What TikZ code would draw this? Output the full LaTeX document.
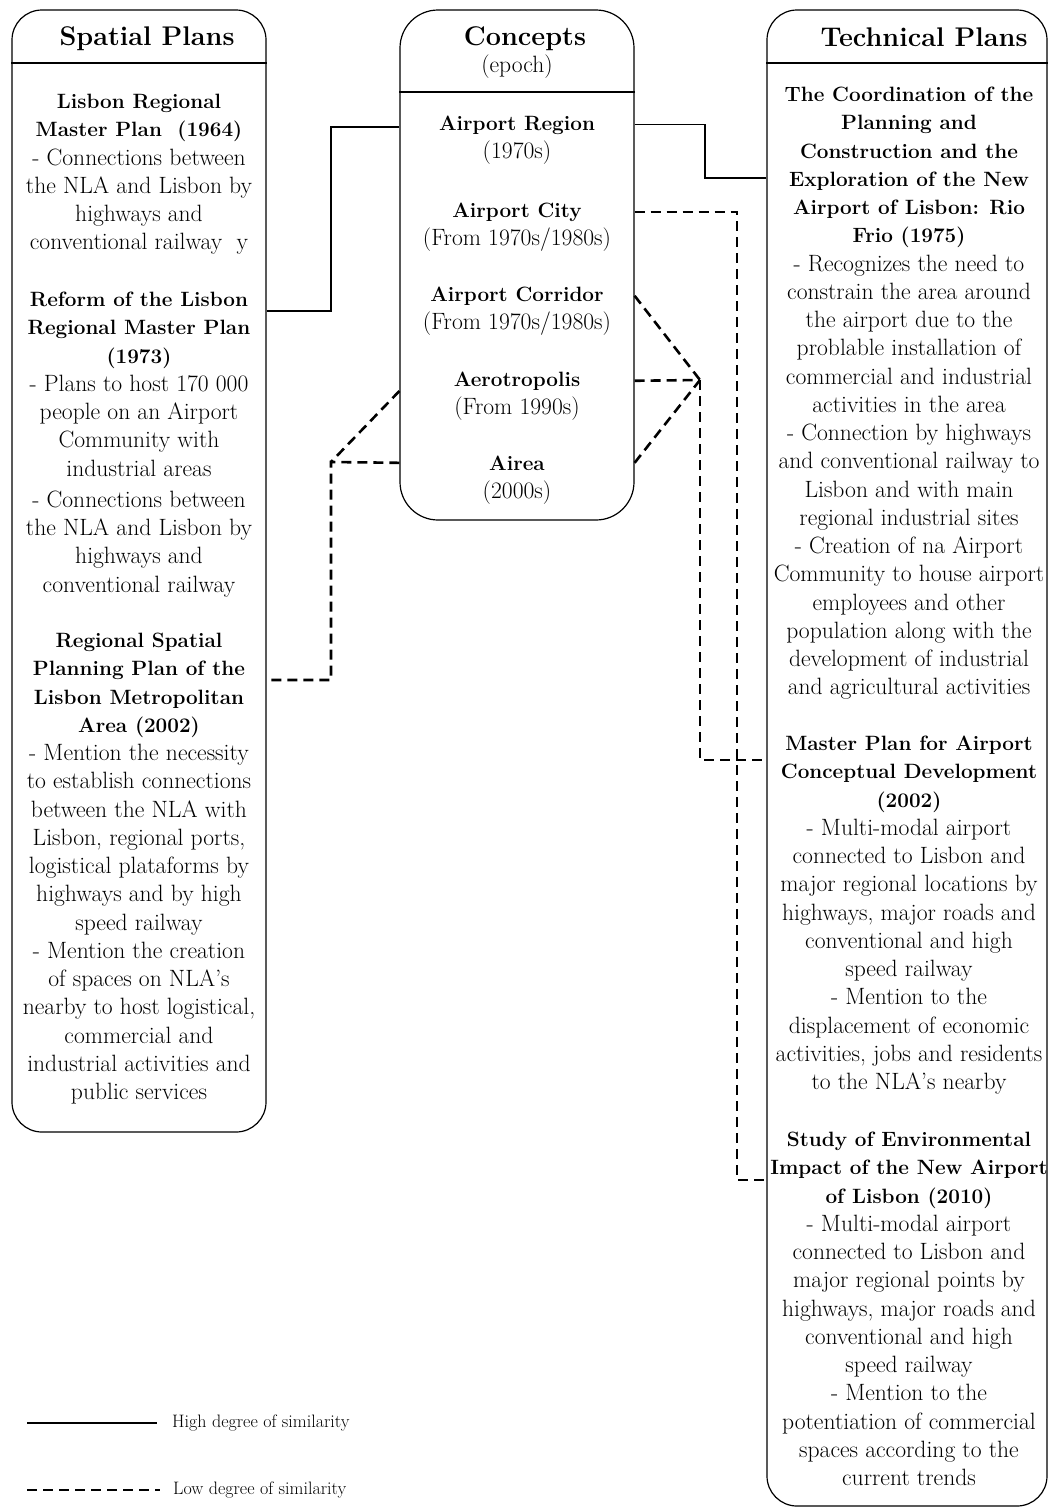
\documentclass[tikz,border=0pt]{standalone}
\usepackage{fontspec}
\newcommand{\ptitle}[1]{{\fontsize{20.7}{28.25}\selectfont\bfseries #1}}
\tikzset{
	panel/.style={draw, line width=1.2pt, rounded corners=30pt, inner sep=0pt},
	head/.style={inner sep=0pt, anchor=base, font=\fontsize{27}{32}\selectfont\bfseries},
	block/.style={align=center, anchor=north, inner sep=0pt, font=\fontsize{23.6}{28.25}\selectfont},
	ctitle/.style={inner sep=0pt, anchor=base, font=\fontsize{20.7}{28.25}\selectfont\bfseries},
	cdate/.style={inner sep=0pt, anchor=base, font=\fontsize{23.6}{28.25}\selectfont},
	high/.style={line width=1.2pt},
	low/.style={line width=2.6pt, dash pattern=on 10pt off 6pt},
	legend/.style={anchor=west, inner sep=0pt, font=\fontsize{18}{21}\selectfont}
}
\begin{document}
\begin{tikzpicture}[x=1pt,y=1pt,yscale=-1]
	\useasboundingbox (0,0) rectangle (1048,1508);
	\node[panel, minimum width=254pt, minimum height=1122pt] (spatial) at (139,571) {};
	\node[panel, rounded corners=38pt, minimum width=234pt, minimum height=510pt] (concepts) at (517,265) {};
	\node[panel, minimum width=280pt, minimum height=1496pt] (technical) at (907,758) {};
	\draw[high] (spatial.west |- 0,63) -- (spatial.east |- 0,63);
	\draw[high] (concepts.west |- 0,92) -- (concepts.east |- 0,92);
	\draw[high] (technical.west |- 0,63) -- (technical.east |- 0,63);
	\node[head] (spatial-head) at (147,45) {Spatial Plans};
	\node[head] (concepts-head) at (525,45) {Concepts};
	\node[cdate] (concepts-sub) at (517,72) {(epoch)};
	\node[head] (technical-head) at (924,46) {Technical Plans};
	\node[block] (lisbon64) at (139,94) {\ptitle{Lisbon Regional}\\\ptitle{Master Plan\ \ (1964)}\\- Connections between\\the NLA and Lisbon by\\highways and\\conventional railway\ \ y};
	\node[block] (reform73) at (139,292) {\ptitle{Reform of the Lisbon}\\\ptitle{Regional Master Plan}\\\ptitle{(1973)}\\- Plans to host 170 000\\people on an Airport\\Community with\\industrial areas\\[3pt]- Connections between\\the NLA and Lisbon by\\highways and\\conventional railway};
	\node[block] (prot02) at (139,633) {\ptitle{Regional Spatial}\\\ptitle{Planning Plan of the}\\\ptitle{Lisbon Metropolitan}\\\ptitle{Area (2002)}\\- Mention the necessity\\to establish connections\\between the NLA with\\Lisbon, regional ports,\\logistical plataforms by\\highways and by high\\speed railway\\- Mention the creation\\of spaces on NLA's\\nearby to host logistical,\\commercial and\\industrial activities and\\public services};
	\node[ctitle] (region) at (517,130) {Airport Region};
	\node[cdate] (region-ep) at (517,158) {(1970s)};
	\node[ctitle] (city) at (517,217) {Airport City};
	\node[cdate] (city-ep) at (517,245) {(From 1970s/1980s)};
	\node[ctitle] (corridor) at (517,301) {Airport Corridor};
	\node[cdate] (corridor-ep) at (517,329) {(From 1970s/1980s)};
	\node[ctitle] (aero) at (517,386) {Aerotropolis};
	\node[cdate] (aero-ep) at (517,414) {(From 1990s)};
	\node[ctitle] (airea) at (517,470) {Airea};
	\node[cdate] (airea-ep) at (517,498) {(2000s)};
	\node[block] (coord75) at (909,87) {\ptitle{The Coordination of the}\\\ptitle{Planning and}\\\ptitle{Construction and the}\\\ptitle{Exploration of the New}\\\ptitle{Airport of Lisbon: Rio}\\\ptitle{Frio (1975)}\\- Recognizes the need to\\constrain the area around\\the airport due to the\\problable installation of\\commercial and industrial\\activities in the area\\- Connection by highways\\and conventional railway to\\Lisbon and with main\\regional industrial sites\\- Creation of na Airport\\Community to house airport\\employees and other\\population along with the\\development of industrial\\and agricultural activities};
	\node[block] (master02) at (909,736) {\ptitle{Master Plan for Airport}\\\ptitle{Conceptual Development}\\\ptitle{(2002)}\\- Multi-modal airport\\connected to Lisbon and\\major regional locations by\\highways, major roads and\\conventional and high\\speed railway\\- Mention to the\\displacement of economic\\activities, jobs and residents\\to the NLA's nearby};
	\node[block] (eia10) at (909,1132) {\ptitle{Study of Environmental}\\\ptitle{Impact of the New Airport}\\\ptitle{of Lisbon (2010)}\\- Multi-modal airport\\connected to Lisbon and\\major regional points by\\highways, major roads and\\conventional and high\\speed railway\\- Mention to the\\potentiation of commercial\\spaces according to the\\current trends};
	\coordinate (bendL) at (331,127);
	\coordinate (bendR) at (705,178);
	\coordinate (hubR) at (700,380);
	\coordinate (hubL) at (331,462);
	\coordinate (dropC) at (737,1180);
	\coordinate (dropM) at (700,760);
	\coordinate (dropS) at (331,680);
	\draw[high] (spatial.east |- 0,311) -| (bendL) -- (concepts.west |- bendL);
	\draw[high] (concepts.east |- region) -| (bendR) -- (technical.west |- bendR);
	\draw[low] (concepts.east |- city) -| (dropC) -- (technical.west |- dropC);
	\draw[low] (concepts.east |- corridor) -- (hubR);
	\draw[low] (concepts.east |- aero) -- (hubR);
	\draw[low] (concepts.east |- airea) -- (hubR);
	\draw[low] (hubR) -- (dropM) -- (technical.west |- dropM);
	\draw[low] (concepts.west |- 0,391) -- (hubL);
	\draw[low] (concepts.west |- airea) -- (hubL) -- (dropS) -- (spatial.east |- dropS);
	\node[legend] (lg-high) at (172,1423) {High degree of similarity};
	\node[legend] (lg-low) at (173,1490) {Low degree of similarity};
	\draw[high] (27,1423) -- ([xshift=-15pt]lg-high.west);
	\draw[low] (27,1490) -- ([xshift=-13pt]lg-low.west);
\end{tikzpicture}
\end{document}
